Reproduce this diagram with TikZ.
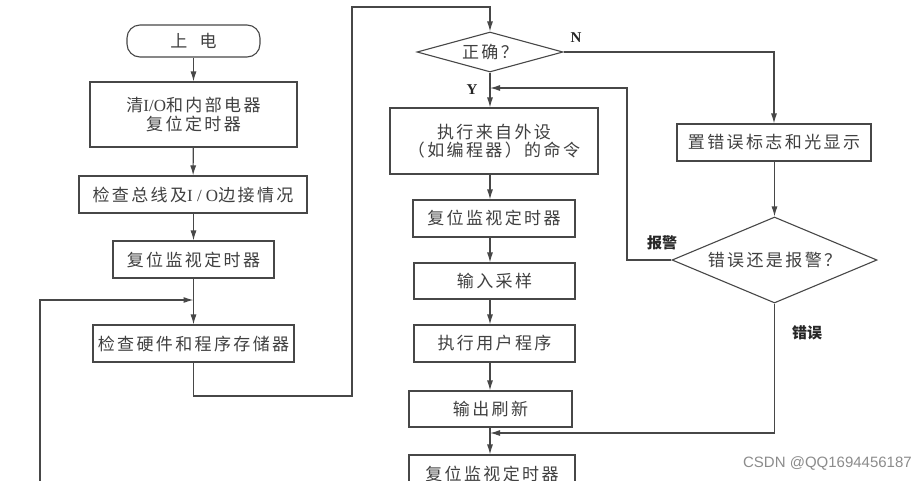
\documentclass[tikz,border=0pt]{standalone}
\usepackage{fontspec}
\usetikzlibrary{arrows.meta,shapes.geometric}
\newfontfamily\cjk[LetterSpace=14]{Noto Sans CJK SC}
\newfontfamily\cjkl{Noto Sans CJK SC}
\newfontfamily\serifr{Liberation Serif}
\newfontfamily\serifb{Liberation Serif}
\newfontfamily\wm{Liberation Sans}
\tikzset{
  proc/.style={draw=black!72, line width=1.1pt, text=black!75, fill=white,
    font=\cjk\fontsize{17}{18.5}\selectfont, inner sep=0pt, align=center},
  dec/.style={diamond, draw=black!72, line width=1.1pt, text=black!75, fill=white,
    font=\cjk\fontsize{17}{18.5}\selectfont, inner sep=0pt, align=center},
  conn/.style={draw=black!72, line width=1.1pt},
  arr/.style={conn, -{Latex[length=10pt,width=6pt]}},
  lbl/.style={text=black!85, font=\cjkl\bfseries\fontsize{15}{17}\selectfont, inner sep=0pt},
  lat/.style={text=black!85, font=\serifb\bfseries\fontsize{15}{17}\selectfont, inner sep=0pt}
}
\begin{document}
\begin{tikzpicture}[x=1pt,y=-1pt]
\useasboundingbox (0,0) rectangle (916,480);
\clip (0,0) rectangle (916,480);
\fill[white] (0,0) rectangle (916,480);
% left column
\node[proc, rounded corners=13pt, minimum width=133pt, minimum height=32pt] (start) at (193.5,41) {上\ \ 电};
\node[proc, minimum width=207pt, minimum height=65pt] (b1) at (193.5,114.5) {清{\serifr I/O}和内部电器\\复位定时器};
\node[proc, minimum width=228pt, minimum height=37pt] (b2) at (193,194.5) {检查总线及{\serifr I / O}边接情况};
\node[proc, minimum width=161pt, minimum height=37pt] (b3) at (193.5,259.5) {复位监视定时器};
\node[proc, minimum width=201pt, minimum height=37pt] (b4) at (193.5,343.5) {检查硬件和程序存储器};
% middle column
\node[dec, shape aspect=3.65, minimum width=146pt, minimum height=40pt] (d1) at (490,52) {正确？};
\node[proc, minimum width=208pt, minimum height=66pt] (b5) at (494,141) {执行来自外设\\（如编程器）的命令};
\node[proc, minimum width=162pt, minimum height=37pt] (b6) at (494,218.5) {复位监视定时器};
\node[proc, minimum width=161pt, minimum height=36pt] (b7) at (494.5,281) {输入采样};
\node[proc, minimum width=161pt, minimum height=37pt] (b8) at (494.5,343.5) {执行用户程序};
\node[proc, minimum width=163pt, minimum height=36pt] (b9) at (490.5,409) {输出刷新};
\node[proc, minimum width=166pt, minimum height=37pt] (b10) at (492,473.5) {复位监视定时器};
% right column
\node[proc, minimum width=194pt, minimum height=37pt] (r1) at (774,142.5) {置错误标志和光显示};
\node[dec, shape aspect=2.38, minimum width=205pt, minimum height=86pt] (d2) at (774.5,260) {错误还是报警？};
% junctions
\coordinate (j1) at (193.5,300);
\coordinate (j2) at (490,88);
\coordinate (j3) at (490,433);
\coordinate (L0) at (40,482);
% connectors left
\draw[arr] (start) -- (b1);
\draw[arr] (b1) -- (b2);
\draw[arr] (b2.south -| b1) -- (b3);
\draw[conn] (b3) -- (j1);
\draw[arr] (j1) -- (b4);
\draw[arr] (L0) -- (40,300) -- (j1);
\draw[arr] (b4) -- (193.5,396) -- (352,396) -- (352,7) -- (490,7) -- (d1.north);
% middle
\draw[conn] (d1.south) -- (j2);
\draw[arr] (j2) -- (b5.north -| j2);
\draw[arr] (b5.south -| j2) -- (b6.north -| j2);
\draw[arr] (b6.south -| j2) -- (b7.north -| j2);
\draw[arr] (b7.south -| j2) -- (b8.north -| j2);
\draw[arr] (b8.south -| j2) -- (b9.north -| j2);
\draw[conn] (b9.south -| j3) -- (j3);
\draw[arr] (j3) -- (b10.north -| j3);
% right
\draw[arr] (d1.east) -- (774,52) -- (r1.north -| 774,0);
\draw[arr] (r1.south -| d2) -- (d2.north);
\draw[arr] (d2.west) -- (627,260) -- (627,88) -- (j2);
\draw[arr] (d2.south) -- (774.5,433) -- (j3);
% labels
\node[lat] (ln) at (576,38) {N};
\node[lat] (ly) at (472,90) {Y};
\node[lbl] (lbj) at (662,243) {报警};
\node[lbl] (lcw) at (807,333) {错误};
\node[text=black!45, font=\wm\fontsize{15}{17}\selectfont, inner sep=0pt, anchor=east] (wmk) at (912,463) {CSDN @QQ1694456187};
\end{tikzpicture}
\end{document}
